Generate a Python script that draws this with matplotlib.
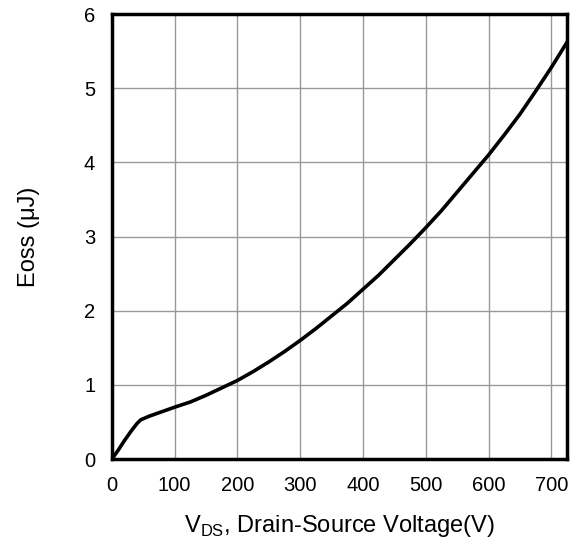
import matplotlib
matplotlib.use('Agg')
import matplotlib.pyplot as plt
import numpy as np

plt.rcParams['font.family'] = ['Liberation Sans', 'DejaVu Sans']

vds = [0, 10, 20, 30, 40, 46, 60, 80, 100, 125, 150, 175, 200, 225, 250,
       275, 300, 325, 350, 375, 400, 425, 450, 475, 500, 525, 550, 575,
       600, 625, 650, 675, 700, 725]
eoss = [0, 0.12, 0.25, 0.37, 0.48, 0.53, 0.58, 0.64, 0.70, 0.77, 0.86,
        0.96, 1.06, 1.18, 1.31, 1.45, 1.60, 1.76, 1.93, 2.10, 2.29, 2.48,
        2.69, 2.90, 3.12, 3.35, 3.60, 3.85, 4.10, 4.37, 4.65, 4.96, 5.28,
        5.62]

xticks = [0, 100, 200, 300, 400, 500, 600, 700]
yticks = [0, 1, 2, 3, 4, 5, 6]

fig = plt.figure(figsize=(5.71, 5.42), dpi=100)
ax = fig.add_axes([0.196, 0.153, 0.797, 0.821])

ax.plot(vds, eoss, color='black', linewidth=2.6, zorder=3,
        solid_joinstyle='round')

ax.set_xlim(0, 725)
ax.set_ylim(0, 6)
ax.set_xticks(xticks)
ax.set_yticks(yticks)
ax.grid(True, color='#999999', linewidth=1.0)
ax.tick_params(length=0, labelsize=14.5)
ax.tick_params(axis='x', pad=12)
ax.tick_params(axis='y', pad=12)
for s in ax.spines.values():
    s.set_linewidth(2.5)

ax.set_xlabel('V$_{\\mathregular{DS}}$, Drain-Source Voltage(V)', fontsize=17, labelpad=13)
ax.set_ylabel('Eoss (μJ)', fontsize=17, labelpad=32)

fig.savefig('out.png', dpi=100)
